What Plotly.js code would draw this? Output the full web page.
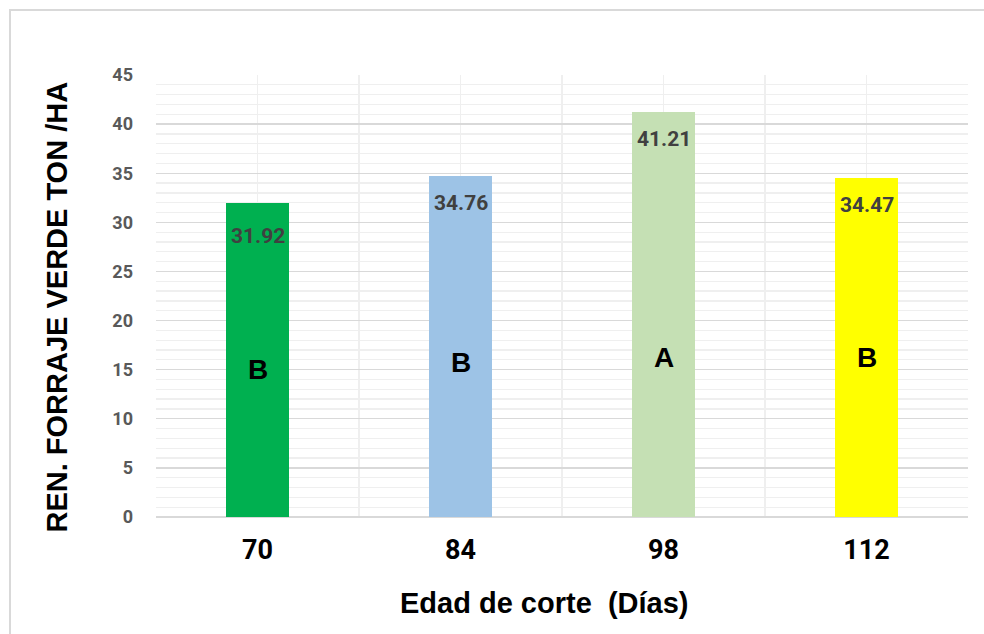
<!DOCTYPE html>
<html>
<head>
<meta charset="utf-8">
<script src="https://cdn.plot.ly/plotly-3.0.1.min.js"></script>
<style>html,body{margin:0;padding:0;background:#fff;}#chart{width:984px;height:634px;}</style>
</head>
<body>
<div id="chart"></div>
<script>
// Data
const categories = ['70', '84', '98', '112'];
const values = [31.92, 34.76, 41.21, 34.47];
const valueLabels = ['31.92', '34.76', '41.21', '34.47'];
const groupLetters = ['B', 'B', 'A', 'B'];
const barColors = ['#00b050', '#9dc3e6', '#c5e0b4', '#ffff00'];
const xTitle = 'Edad de corte \u00a0(Días)';
const yTitle = 'REN. FORRAJE VERDE TON /HA';

// Label placement (styling/positions, not data)
const valueLabelOffset = [-33, -27, -27, -27];
const letterY = [14.97, 15.68, 16.19, 16.22];

const xpos = categories.map((c, i) => i);

const trace = {
  type: 'bar',
  x: xpos,
  y: values,
  width: 0.315,
  marker: {color: barColors, line: {width: 0}},
  hoverinfo: 'x+y',
  showlegend: false
};

const titleFont = {family: 'Liberation Sans, Arial, sans-serif', size: 29, color: '#000000', weight: 'bold'};

const annotations = [];
xpos.forEach((x, i) => {
  annotations.push({
    x: x, y: values[i], xref: 'x', yref: 'y',
    text: valueLabels[i], showarrow: false,
    yshift: valueLabelOffset[i], yanchor: 'middle',
    font: {family: 'Roboto, sans-serif', size: 21, color: '#404040', weight: 'bold'}
  });
  annotations.push({
    x: x, y: letterY[i], xref: 'x', yref: 'y',
    text: '<b>' + groupLetters[i] + '</b>', showarrow: false,
    yanchor: 'middle',
    font: {family: 'Liberation Sans, Arial, sans-serif', size: 28, color: '#000000'}
  });
});
annotations.push({
  x: 0.4778, y: -0.1946, xref: 'paper', yref: 'paper',
  xanchor: 'center', yanchor: 'middle',
  text: xTitle, showarrow: false, font: titleFont
});
annotations.push({
  x: -0.1213, y: 0.4751, xref: 'paper', yref: 'paper',
  xanchor: 'center', yanchor: 'middle', textangle: -90,
  text: yTitle, showarrow: false, font: titleFont
});

const layout = {
  width: 984, height: 634,
  margin: {l: 156, r: 16, t: 75, b: 117},
  paper_bgcolor: '#ffffff',
  plot_bgcolor: '#ffffff',
  bargap: 0,
  xaxis: {
    range: [-0.5, 3.5],
    tickmode: 'array',
    tickvals: xpos,
    ticktext: categories,
    showgrid: true,
    gridcolor: '#efefef',
    gridwidth: 1.5,
    minor: {tickmode: 'array', tickvals: [-0.5, 0.5, 1.5, 2.5, 3.5], showgrid: true, gridcolor: '#efefef', gridwidth: 1.5},
    zeroline: false,
    showline: false,
    ticks: '',
    ticklabelstandoff: 14,
    tickfont: {family: 'Roboto, sans-serif', size: 27, color: '#000000', weight: 'bold'},
    fixedrange: true
  },
  yaxis: {
    range: [0, 45],
    tickmode: 'linear',
    tick0: 0,
    dtick: 5,
    showgrid: true,
    gridcolor: '#d9d9d9',
    gridwidth: 1.3,
    minor: {dtick: 1, showgrid: true, gridcolor: '#efefef', gridwidth: 1.3},
    zeroline: true,
    zerolinecolor: '#d9d9d9',
    zerolinewidth: 1.6,
    showline: false,
    ticks: '',
    ticklabelstandoff: 22,
    tickfont: {family: 'Roboto, sans-serif', size: 18, color: '#595959', weight: 'bold'},
    fixedrange: true
  },
  annotations: annotations,
  shapes: [{
    type: 'rect', xref: 'paper', yref: 'paper',
    x0: -0.1798, x1: 1.2, y0: -0.4, y1: 1.147,
    line: {color: '#d9d9d9', width: 2},
    fillcolor: 'rgba(0,0,0,0)',
    layer: 'below'
  }]
};

Plotly.newPlot('chart', [trace], layout, {displayModeBar: false, staticPlot: true});
</script>
</body>
</html>
